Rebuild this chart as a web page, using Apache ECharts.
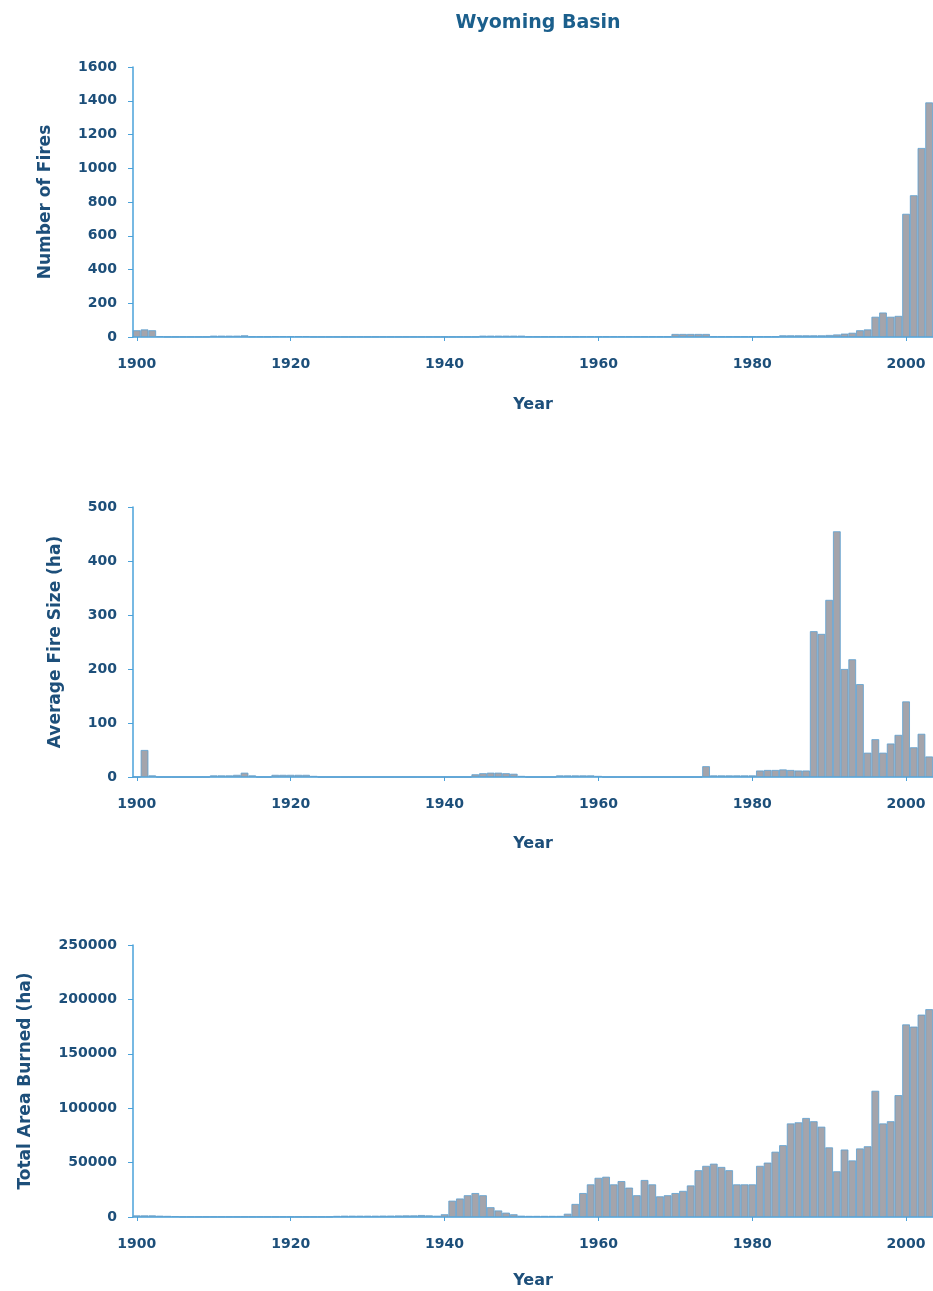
<!DOCTYPE html>
<html>
<head>
<meta charset="utf-8">
<script src="https://cdn.jsdelivr.net/npm/echarts@6/dist/echarts.min.js"></script>
<style>
html,body{margin:0;padding:0;background:#fff;}
#c{width:933px;height:1291px;}
</style>
</head>
<body>
<div id="c"></div>
<script>
const firstYear = 1900, lastYear = 2003;
const years = [];
for (let y = firstYear; y <= lastYear; y++) years.push(String(y));

const numberOfFires = [
  40,45,40,5,2,2,2,2,2,2,
  8,8,8,8,10,3,3,3,5,5,
  5,5,5,2,2,2,2,2,2,2,
  2,2,2,2,2,2,2,2,2,2,
  2,2,2,2,2,8,8,8,8,8,
  8,3,3,3,3,3,3,3,3,3,
  3,3,3,3,3,3,3,3,3,3,
  18,18,18,18,18,3,3,3,3,3,
  3,3,3,3,10,10,10,10,10,10,
  12,15,20,25,40,45,120,145,120,125,
  730,840,1120,1390
];
const averageFireSize = [
  0,50,3,0,0,0,0,0,0,0,
  3,3,3,4,8,3,0,0,4,4,
  4,4,4,2,0,0,0,0,0,0,
  0,0,0,0,0,0,0,0,0,0,
  0,0,0,0,5,7,8,8,7,6,
  2,0,0,0,0,3,3,3,3,3,
  2,0,0,0,0,0,0,0,0,0,
  0,0,0,0,20,3,3,3,3,3,
  3,12,13,13,14,13,12,12,270,265,
  328,455,200,218,172,45,70,45,62,78,
  140,55,80,38
];
const totalAreaBurned = [
  1500,1500,1500,1200,1000,800,300,300,300,300,
  300,300,300,300,300,300,300,300,300,300,
  300,300,300,300,300,300,1000,1200,1200,1200,
  1200,1200,1300,1300,1400,1500,1500,1800,1500,1200,
  2500,15000,17000,20000,22000,20000,9000,6000,4000,2500,
  1200,1000,1000,1000,1000,1000,3000,12000,22000,30000,
  36000,37000,30000,33000,27000,20000,34000,30000,19000,20000,
  22000,24000,29000,43000,47000,49000,46000,43000,30000,30000,
  30000,47000,50000,60000,66000,86000,87000,91000,88000,83000,
  64000,42000,62000,52000,63000,65000,116000,86000,88000,112000,
  177000,175000,186000,191000
];

const panels = [
  {name: 'Number of Fires', data: numberOfFires, max: 1600, interval: 200, top: 67, height: 270, nameGap: 79, xNameGap: 60},
  {name: 'Average Fire Size (ha)', data: averageFireSize, max: 500, interval: 100, top: 507, height: 270, nameGap: 69, xNameGap: 59},
  {name: 'Total Area Burned (ha)', data: totalAreaBurned, max: 250000, interval: 50000, top: 945, height: 272, nameGap: 99, xNameGap: 56}
];

const textColor = '#1d4f7a';
const axisColor = '#4aa2da';
const font = '"DejaVu Sans", sans-serif';

const option = {
  animation: false,
  backgroundColor: '#ffffff',
  title: {
    text: 'Wyoming Basin', left: 533, top: 9, textAlign: 'center',
    textStyle: {fontFamily: font, fontSize: 19, fontWeight: 'bold', color: '#1b5f8c'}
  },
  grid: panels.map(p => ({left: 133, right: 0, top: p.top, height: p.height})),
  xAxis: panels.map((p, i) => ({
    type: 'category', gridIndex: i, data: years,
    name: 'Year', nameLocation: 'middle', nameGap: p.xNameGap,
    nameTextStyle: {fontFamily: font, fontSize: 16, fontWeight: 'bold', color: textColor},
    axisLine: {show: true, lineStyle: {color: axisColor, width: 1.5}},
    axisTick: {show: true, alignWithLabel: true, interval: 19, length: 4, lineStyle: {color: axisColor}},
    axisLabel: {interval: 19, margin: 20, fontFamily: font, fontSize: 14, fontWeight: 'bold', color: textColor},
    splitLine: {show: false}
  })),
  yAxis: panels.map((p, i) => ({
    type: 'value', gridIndex: i, min: 0, max: p.max, interval: p.interval,
    name: p.name, nameLocation: 'middle', nameGap: p.nameGap,
    nameTextStyle: {fontFamily: font, fontSize: 17, fontWeight: 'bold', color: textColor},
    axisLine: {show: true, lineStyle: {color: axisColor, width: 1.5}},
    axisTick: {show: true, inside: false, length: 5, lineStyle: {color: axisColor}},
    axisLabel: {margin: 16, fontFamily: font, fontSize: 14, fontWeight: 'bold', color: textColor,
      formatter: v => String(v)},
    splitLine: {show: false}
  })),
  series: panels.map((p, i) => ({
    type: 'bar', xAxisIndex: i, yAxisIndex: i, data: p.data,
    barCategoryGap: '0%',
    itemStyle: {color: '#a4a4ab', borderColor: '#5c9fd0', borderWidth: 0.8}
  }))
};

echarts.init(document.getElementById('c'), null, {renderer: 'canvas'}).setOption(option);
</script>
</body>
</html>
